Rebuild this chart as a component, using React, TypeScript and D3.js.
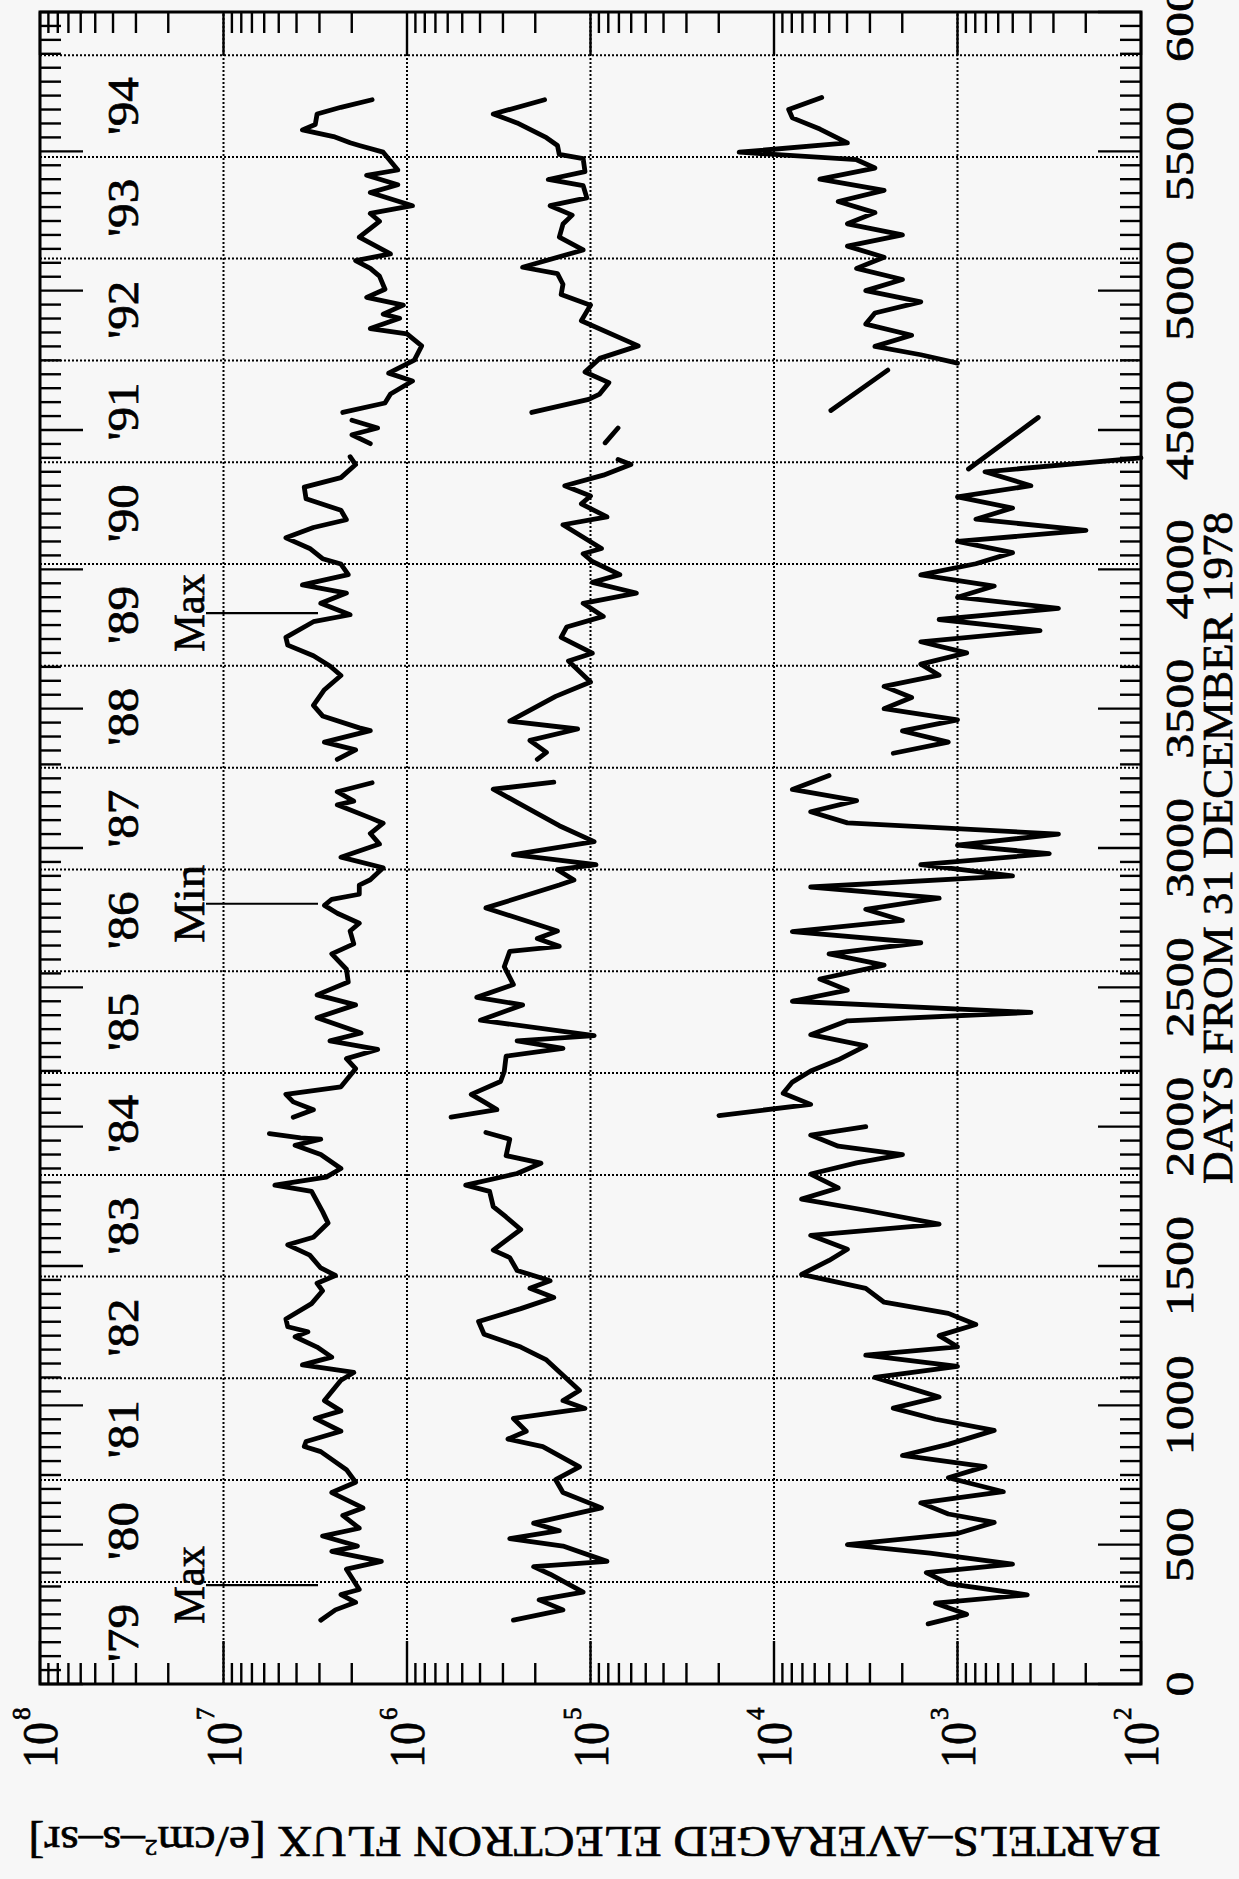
import React from "react";
import * as d3 from "d3";

// ---------- axis / label data ----------
const dayMajorTicks = [0, 500, 1000, 1500, 2000, 2500, 3000, 3500, 4000, 4500, 5000, 5500, 6000];
const yearStartDays = [366, 732, 1097, 1462, 1827, 2193, 2558, 2923, 3288, 3654, 4019, 4384, 4749, 5115, 5480, 5845];
const yearLabels = ["'79", "'80", "'81", "'82", "'83", "'84", "'85", "'86", "'87", "'88", "'89", "'90", "'91", "'92", "'93", "'94"];
const fluxDecades = [8, 7, 6, 5, 4, 3, 2];
const annotations = [
  { label: "Max", day: 355 },
  { label: "Min", day: 2800 },
  { label: "Max", day: 3843 },
];

// ---------- series (day, log10 flux); NaN = data gap ----------
const s1Days = [229, 266, 293, 321, 339, 412, 440, 476, 495, 531, 559, 605, 632, 687, 724, 769, 806, 834, 852, 870, 907, 953, 980, 1017, 1090, 1118, 1145, 1173, 1209, 1246, 1264, 1282, 1310, 1365, 1411, 1438, 1466, 1493, 1539, 1576, 1603, 1654, 1695, 1768, 1790, 1819, 1850, 1900, 1933, 1955, 1960, 1975, NaN,
  2034, 2061, 2089, 2116, 2143, 2208, 2244, 2277, 2308, 2336, 2391, 2437, 2473, 2519, 2565, 2620, 2656, 2702, 2730, 2766, 2794, 2816, 2834, 2867, 2886, 2929, 2967, 3014, 3052, 3089, 3108, 3155, 3168, 3202, 3234, NaN,
  3318, 3352, 3380, 3421, 3431, 3474, 3512, 3568, 3619, 3653, 3690, 3728, 3756, 3812, 3837, 3878, 3915, 3944, 3981, 4019, 4038, 4075, 4113, 4150, 4178, 4212, 4253, 4295, 4329, 4376, 4404, NaN,
  4451, 4483, 4507, 4535, NaN,
  4563, 4597, 4629, 4676, 4704, 4751, 4802, 4845, 4864, 4901, 4916, 4948, 4976, 5005, 5052, 5080, 5108, 5132, 5192, 5249, 5277, 5305, 5352, 5380, 5414, 5433, 5497, 5521, 5531, 5553, 5577, 5596, 5634, 5658, 5685];
const s1LogFlux = [6.47, 6.39, 6.28, 6.36, 6.26, 6.33, 6.14, 6.41, 6.27, 6.46, 6.26, 6.35, 6.24, 6.41, 6.28, 6.33, 6.41, 6.47, 6.56, 6.55, 6.36, 6.5, 6.36, 6.45, 6.36, 6.29, 6.57, 6.41, 6.49, 6.61, 6.54, 6.65, 6.66, 6.52, 6.46, 6.49, 6.39, 6.47, 6.53, 6.65, 6.51, 6.43, 6.46, 6.52, 6.72, 6.44, 6.36, 6.47, 6.61, 6.47, 6.58, 6.75, NaN,
  6.62, 6.51, 6.62, 6.66, 6.36, 6.28, 6.33, 6.16, 6.42, 6.25, 6.49, 6.28, 6.49, 6.32, 6.33, 6.41, 6.29, 6.31, 6.26, 6.38, 6.45, 6.41, 6.26, 6.26, 6.2, 6.13, 6.36, 6.15, 6.2, 6.13, 6.2, 6.38, 6.29, 6.38, 6.19, NaN,
  6.38, 6.28, 6.45, 6.2, 6.26, 6.46, 6.51, 6.45, 6.36, 6.42, 6.51, 6.65, 6.66, 6.51, 6.31, 6.47, 6.33, 6.57, 6.32, 6.36, 6.46, 6.53, 6.66, 6.51, 6.33, 6.36, 6.55, 6.56, 6.36, 6.28, 6.31, NaN,
  6.2, 6.3, 6.16, 6.3, NaN,
  6.35, 6.12, 6.09, 5.97, 6.1, 5.96, 5.92, 6.0, 6.2, 6.04, 6.13, 6.02, 6.22, 6.12, 6.15, 6.2, 6.28, 6.09, 6.26, 6.15, 6.2, 5.97, 6.2, 6.05, 6.22, 6.05, 6.13, 6.26, 6.31, 6.4, 6.57, 6.5, 6.49, 6.36, 6.19];

const s2Days = [229, 266, 302, 330, 394, 421, 440, 495, 522, 550, 577, 632, 687, 733, 779, 852, 879, 907, 953, 989, 1017, 1053, 1108, 1163, 1209, 1255, 1301, 1347, 1387, 1420, 1447, 1484, 1530, 1557, 1631, 1676, 1713, 1768, 1790, 1832, 1869, 1896, 1955, 1979, NaN,
  2034, 2061, 2089, 2116, 2162, 2198, 2253, 2281, 2308, 2327, 2382, 2437, 2464, 2510, 2574, 2629, 2647, 2675, 2702, 2785, 2867, 2885, 2922, 2940, 2976, 3023, 3080, 3164, 3211, 3236, NaN,
  3318, 3343, 3386, 3427, 3455, 3544, 3596, 3671, 3699, 3756, 3793, 3831, 3878, 3915, 3953, 3981, 4028, 4056, 4075, 4160, 4188, 4235, 4263, 4300, 4338, 4376, 4394, NaN,
  4454, 4507, NaN,
  4563, 4610, 4629, 4670, 4708, 4757, 4802, 4892, 4948, 4986, 5023, 5061, 5084, 5146, 5192, 5239, 5271, 5305, 5333, 5377, 5399, 5427, 5474, 5489, 5521, 5549, 5602, 5634, 5685];
const s2LogFlux = [5.42, 5.15, 5.28, 5.04, 5.22, 5.31, 4.91, 5.15, 5.44, 5.17, 5.31, 4.94, 5.15, 5.19, 5.06, 5.26, 5.45, 5.35, 5.42, 5.03, 5.15, 5.06, 5.15, 5.24, 5.38, 5.58, 5.61, 5.38, 5.2, 5.33, 5.22, 5.4, 5.44, 5.53, 5.38, 5.46, 5.53, 5.55, 5.68, 5.4, 5.27, 5.46, 5.44, 5.57, NaN,
  5.76, 5.51, 5.58, 5.65, 5.49, 5.47, 5.46, 5.15, 5.4, 4.98, 5.6, 5.37, 5.62, 5.42, 5.47, 5.44, 5.17, 5.29, 5.18, 5.57, 5.17, 5.09, 5.18, 4.97, 5.42, 4.98, 5.17, 5.4, 5.53, 5.2, NaN,
  5.29, 5.24, 5.33, 5.07, 5.44, 5.19, 5.0, 5.12, 4.99, 5.16, 5.13, 4.93, 5.04, 4.75, 4.99, 4.84, 4.99, 5.04, 4.94, 5.15, 4.91, 5.05, 5.0, 5.14, 4.93, 4.78, 4.85, NaN,
  4.92, 4.85, NaN,
  5.32, 5.01, 4.95, 4.9, 5.03, 4.95, 4.74, 5.05, 5.0, 5.16, 5.15, 5.18, 5.37, 5.04, 5.17, 5.15, 5.1, 5.22, 5.02, 5.04, 5.23, 5.03, 5.04, 5.17, 5.18, 5.24, 5.4, 5.53, 5.25];

const s3Days = [216, 250, 290, 320, 360, 400, 430, 470, 500, 540, 580, 610, 650, 690, 740, 780, 820, 860, 910, 950, 990, 1030, 1060, 1100, 1140, 1180, 1210, 1250, 1290, 1330, 1370, 1420, 1470, 1520, 1560, 1610, 1650, 1700, 1740, 1780, 1830, 1870, 1900, 1930, 1970, 2000, NaN,
  2040, 2080, 2120, 2160, 2200, 2240, 2290, 2330, 2380, 2410, 2450, 2490, 2530, 2580, 2620, 2660, 2700, 2740, 2780, 2820, 2860, 2900, 2940, 2980, 3010, 3050, 3090, 3130, 3170, 3210, 3260, NaN,
  3340, 3380, 3420, 3460, 3500, 3540, 3580, 3620, 3660, 3700, 3740, 3780, 3820, 3860, 3900, 3940, 3980, 4020, 4060, 4100, 4140, 4180, 4220, 4260, 4300, 4350, 4400, NaN,
  4360, 4545, NaN,
  4570, 4715, NaN,
  4740, 4770, 4800, 4840, 4880, 4920, 4960, 5000, 5040, 5080, 5120, 5160, 5200, 5240, 5280, 5320, 5360, 5400, 5440, 5470, 5497, 5530, 5580, 5620, 5650, 5693];
const s3LogFlux = [3.16, 2.95, 3.12, 2.62, 3.05, 3.17, 2.7, 3.15, 3.6, 3.0, 2.8, 3.05, 3.2, 2.75, 3.05, 2.85, 3.3, 3.05, 2.8, 3.12, 3.35, 3.1, 3.25, 3.45, 3.0, 3.5, 3.0, 3.1, 2.9, 3.05, 3.4, 3.5, 3.85, 3.7, 3.6, 3.8, 3.1, 3.5, 3.85, 3.65, 3.8, 3.55, 3.3, 3.65, 3.8, 3.5, NaN,
  4.3, 3.8, 3.95, 3.9, 3.8, 3.65, 3.5, 3.8, 3.6, 2.6, 3.9, 3.6, 3.75, 3.4, 3.7, 3.2, 3.9, 3.3, 3.5, 3.1, 3.8, 2.7, 3.2, 2.5, 3.0, 2.45, 3.6, 3.8, 3.55, 3.9, 3.7, NaN,
  3.35, 3.05, 3.3, 3.0, 3.4, 3.25, 3.4, 3.1, 3.2, 2.95, 3.2, 2.55, 3.1, 2.45, 3.0, 2.8, 3.2, 2.9, 2.7, 3.0, 2.3, 2.9, 2.7, 3.0, 2.6, 2.85, 2.0, NaN,
  2.94, 2.56, NaN,
  3.69, 3.38, NaN,
  3.0, 3.2, 3.45, 3.25, 3.5, 3.45, 3.2, 3.5, 3.3, 3.55, 3.4, 3.6, 3.3, 3.6, 3.45, 3.65, 3.4, 3.75, 3.45, 3.55, 4.19, 3.6, 3.75, 3.9, 3.92, 3.74];

// ---------- geometry (screen frame of the rotated plot) ----------
const FRAME_LEFT = 40;
const FRAME_TOP = 12;
const FRAME_RIGHT = 1141;
const FRAME_BOTTOM = 1684;
const PW = FRAME_BOTTOM - FRAME_TOP; // days axis length (unrotated width)
const PH = FRAME_RIGHT - FRAME_LEFT; // flux axis length (unrotated height)

const FONT = "'Liberation Serif', 'DejaVu Serif', serif";

function Series({ days, logs, x, y }: { days: number[]; logs: number[]; x: d3.ScaleLinear<number, number>; y: d3.ScaleLogarithmic<number, number> }) {
  const pts = days.map((d, i) => [d, logs[i]] as [number, number]);
  const line = d3
    .line<[number, number]>()
    .defined((p) => !isNaN(p[0]) && !isNaN(p[1]))
    .x((p) => x(p[0]))
    .y((p) => y(Math.pow(10, p[1])));
  return <path d={line(pts) || ""} fill="none" stroke="#000" strokeWidth={4.8} strokeLinejoin="round" strokeLinecap="round" />;
}

export default function App() {
  const x = d3.scaleLinear().domain([0, 6000]).range([0, PW]);
  const y = d3.scaleLog().domain([1e8, 1e2]).range([0, PH]);

  const minorDays = d3.range(0, 6001, 50);
  const logMinor: number[] = [];
  for (let e = 2; e < 8; e++) for (let m = 2; m <= 9; m++) logMinor.push(m * Math.pow(10, e));

  const gridDecades = [7, 6, 5, 4, 3];
  const textStroke = { stroke: "#000", strokeWidth: 0.7 };

  return (
    <div style={{ position: "absolute", left: 0, top: 0, width: 1239, height: 1879, background: "#f7f7f7" }}>
      <svg width={1239} height={1879} style={{ display: "block" }}>
        <rect x={0} y={0} width={1239} height={1879} fill="#f7f7f7" />
        <g transform={`translate(${FRAME_LEFT},${FRAME_BOTTOM}) rotate(-90)`} fontFamily={FONT} fill="#000">
          {/* grid */}
          {gridDecades.map((e) => (
            <line key={"gd" + e} x1={0} x2={PW} y1={y(Math.pow(10, e))} y2={y(Math.pow(10, e))} stroke="#000" strokeWidth={2} strokeDasharray="2,2" />
          ))}
          {yearStartDays.map((d) => (
            <line key={"gy" + d} x1={x(d)} x2={x(d)} y1={0} y2={PH} stroke="#000" strokeWidth={2} strokeDasharray="2,2" />
          ))}

          {/* day ticks: top & bottom */}
          {minorDays.map((d) => {
            const major = d % 500 === 0;
            const len = major ? 43 : 21;
            return (
              <g key={"dt" + d}>
                <line x1={x(d)} x2={x(d)} y1={PH} y2={PH - len} stroke="#000" strokeWidth={2.4} />
                <line x1={x(d)} x2={x(d)} y1={0} y2={len} stroke="#000" strokeWidth={2.4} />
              </g>
            );
          })}
          {/* flux ticks: left & right */}
          {logMinor.map((v, i) => (
            <g key={"lt" + i}>
              <line x1={0} x2={21} y1={y(v)} y2={y(v)} stroke="#000" strokeWidth={2.4} />
              <line x1={PW} x2={PW - 21} y1={y(v)} y2={y(v)} stroke="#000" strokeWidth={2.4} />
            </g>
          ))}
          {fluxDecades.map((e) => (
            <g key={"ld" + e}>
              <line x1={0} x2={43} y1={y(Math.pow(10, e))} y2={y(Math.pow(10, e))} stroke="#000" strokeWidth={2.4} />
              <line x1={PW} x2={PW - 43} y1={y(Math.pow(10, e))} y2={y(Math.pow(10, e))} stroke="#000" strokeWidth={2.4} />
            </g>
          ))}

          {/* frame */}
          <rect x={0} y={0} width={PW} height={PH} fill="none" stroke="#000" strokeWidth={3} />

          {/* series */}
          <Series days={s1Days} logs={s1LogFlux} x={x} y={y} />
          <Series days={s2Days} logs={s2LogFlux} x={x} y={y} />
          <Series days={s3Days} logs={s3LogFlux} x={x} y={y} />

          {/* year labels */}
          {yearLabels.map((lab, i) => {
            const d0 = i === 0 ? 0 : yearStartDays[i - 1];
            const d1 = yearStartDays[i];
            return (
              <text key={"yl" + i} x={x((d0 + d1) / 2)} y={98} fontSize={45} textAnchor="middle" textLength={58} lengthAdjust="spacingAndGlyphs" {...textStroke}>
                {lab}
              </text>
            );
          })}

          {/* annotations */}
          {annotations.map((a, i) => (
            <g key={"an" + i}>
              <text x={x(a.day)} y={164} fontSize={44} textAnchor="middle" textLength={78} lengthAdjust="spacingAndGlyphs" {...textStroke}>
                {a.label}
              </text>
              <line x1={x(a.day)} x2={x(a.day)} y1={166} y2={278} stroke="#000" strokeWidth={2.2} />
            </g>
          ))}

          {/* day tick labels */}
          {dayMajorTicks.map((d) => {
            const s = String(d);
            return (
              <text key={"dl" + d} x={x(d)} y={PH + 52} fontSize={41} textAnchor="middle" textLength={s.length * 25} lengthAdjust="spacingAndGlyphs" {...textStroke}>
                {s}
              </text>
            );
          })}
          <text x={PW / 2} y={PH + 91} fontSize={42} textAnchor="middle" textLength={672} lengthAdjust="spacingAndGlyphs" {...textStroke}>
            DAYS FROM 31 DECEMBER 1978
          </text>

          {/* flux tick labels */}
          {fluxDecades.map((e) => (
            <g key={"fl" + e}>
              <text x={-38} y={y(Math.pow(10, e)) + 17} fontSize={50} textAnchor="end" textLength={46} lengthAdjust="spacingAndGlyphs" {...textStroke}>
                10
              </text>
              <text x={-36} y={y(Math.pow(10, e)) - 10} fontSize={25} textAnchor="start" {...textStroke}>
                {e}
              </text>
            </g>
          ))}

          {/* flux axis title */}
          <text transform={`translate(${-143},${PH / 2 + 4}) rotate(-90)`} fontSize={44} textAnchor="middle" textLength={1132} lengthAdjust="spacingAndGlyphs" {...textStroke}>
            BARTELS–AVERAGED ELECTRON FLUX [e/cm<tspan baselineShift="super" fontSize={24}>2</tspan>–s–sr]
          </text>
        </g>
      </svg>
    </div>
  );
}
